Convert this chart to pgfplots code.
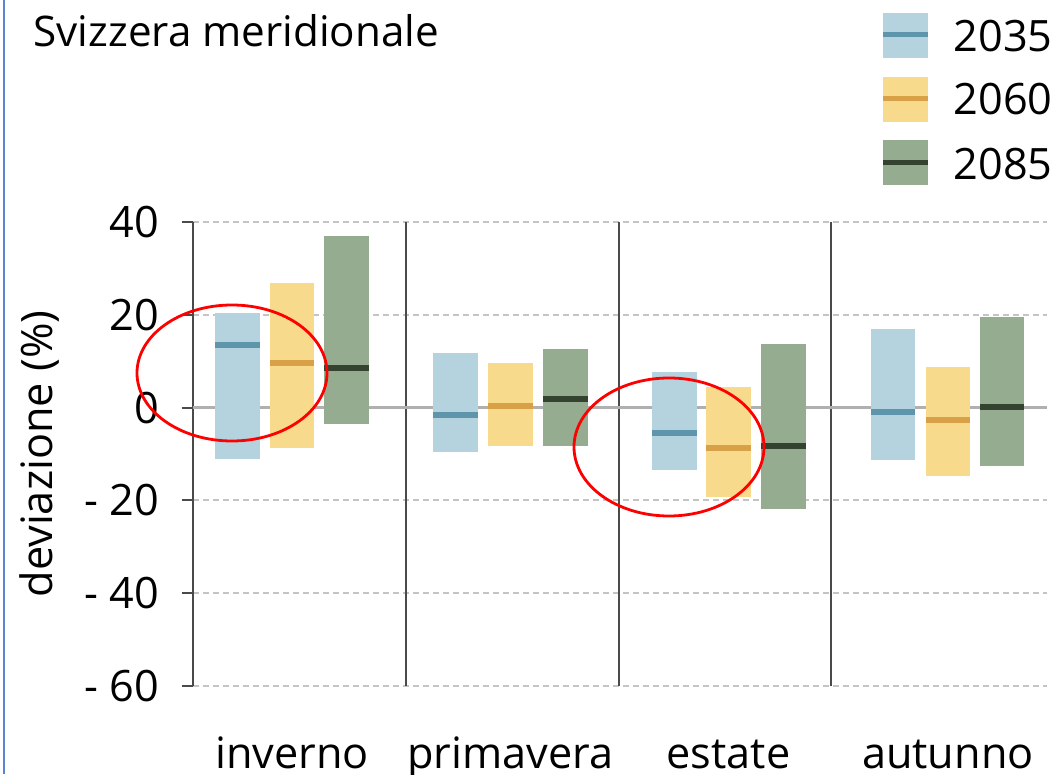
\documentclass[border=0pt]{standalone}
\usepackage{fontspec}
\setmainfont{Open Sans}
\usepackage{pgfplots}
\pgfplotsset{compat=1.18}

\definecolor{bluebox}{HTML}{B4D3DE}
\definecolor{bluemed}{HTML}{5E95AB}
\definecolor{yelbox}{HTML}{F8DA8C}
\definecolor{yelmed}{HTML}{D8A047}
\definecolor{grnbox}{HTML}{95AC91}
\definecolor{grnmed}{HTML}{344230}
\definecolor{axisgray}{HTML}{4A4A4A}
\definecolor{gridgray}{HTML}{C4C4C4}
\definecolor{framebl}{HTML}{5A86D0}

% range box + median: left, right, bottom, median, top, colour
\newcommand{\rangebox}[6]{%
  \addplot[fill=#6box, draw=none] coordinates {(#1,#3) (#1,#5) (#2,#5) (#2,#3)};
  \addplot[draw=#6med, line width=0.6mm] coordinates {(#1,#4) (#2,#4)};
}

\begin{document}
\begin{tikzpicture}[font=\fontsize{12.3}{14}\selectfont]
\useasboundingbox (-19.3mm,-8.8mm) rectangle (87.0mm,68.6mm);
\clip (-19.3mm,-8.8mm) rectangle (87.0mm,68.6mm);
\begin{axis}[
  at={(0,0)}, anchor=south west,
  scale only axis, width=85.4mm, height=46.4mm,
  xmin=0, xmax=4, ymin=-60, ymax=40,
  axis x line*=bottom, axis y line*=left,
  x axis line style={draw=none},
  y axis line style={draw=axisgray, line width=0.2mm, -},
  xtick={0.464,1.487,2.508,3.536},
  xticklabels={inverno,primavera,estate,autunno},
  xtick style={draw=none},
  xticklabel style={anchor=base, yshift=-7.1mm},
  ytick={-60,-40,-20,0,20,40},
  yticklabels={- 60,- 40,- 20,0,20,40},
  tick align=outside, major tick length=1.1mm,
  ytick style={draw=axisgray, line width=0.2mm},
  yticklabel style={anchor=east, inner sep=0pt, xshift=-2.2mm},
  ymajorgrids,
  major grid style={gridgray, line width=0.2mm, dash pattern=on 0.6mm off 0.4mm},
  extra x ticks={1.0,1.995,2.99}, extra x tick labels={},
  extra x tick style={grid=major, major grid style={axisgray, line width=0.2mm, solid}},
  extra y ticks={0}, extra y tick labels={},
  extra y tick style={grid=major, major grid style={gridgray!90!black, line width=0.25mm, solid}},
  ylabel={deviazione (\%)},
  every axis y label/.style={at={(axis description cs:-0.1651,0.5)}, rotate=90, anchor=base},
  clip=false,
]
% inverno
\rangebox{0.104}{0.312}{-11.1}{13.4}{20.3}{blue}
\rangebox{0.360}{0.568}{-8.8}{9.6}{26.8}{yel}
\rangebox{0.615}{0.823}{-3.6}{8.6}{36.9}{grn}
% primavera
\rangebox{1.126}{1.334}{-9.5}{-1.5}{11.7}{blue}
\rangebox{1.383}{1.591}{-8.3}{0.4}{9.7}{yel}
\rangebox{1.641}{1.849}{-8.2}{1.8}{12.7}{grn}
% estate
\rangebox{2.151}{2.359}{-13.5}{-5.4}{7.6}{blue}
\rangebox{2.404}{2.612}{-19.3}{-8.7}{4.5}{yel}
\rangebox{2.662}{2.870}{-21.9}{-8.2}{13.6}{grn}
% autunno
\rangebox{3.175}{3.383}{-11.4}{-1.0}{17.0}{blue}
\rangebox{3.432}{3.640}{-14.7}{-2.6}{8.8}{yel}
\rangebox{3.685}{3.893}{-12.6}{0.1}{19.5}{grn}
\end{axis}

% title
\node[anchor=base west, inner sep=0pt, font=\fontsize{12}{14}\selectfont] at (-16.0mm,63.9mm) {Svizzera meridionale};

% legend
\foreach \c/\yt/\ym/\yb/\yl/\lab in {blue/67.3/65.1/62.8/63.4/2035, yel/60.9/58.7/56.4/57.1/2060, grn/54.6/52.3/50.1/50.6/2085}{
  \fill[\c box] (69.0mm,\yb mm) rectangle (73.5mm,\yt mm);
  \draw[\c med, line width=0.5mm] (69.0mm,\ym mm) -- (73.5mm,\ym mm);
  \node[anchor=base west, inner sep=0pt] at (76.0mm,\yl mm) {\lab};
}

% highlights
\draw[red, line width=0.28mm] (3.9mm,31.3mm) ellipse [x radius=9.5mm, y radius=6.8mm];
\draw[red, line width=0.28mm] (47.6mm,23.9mm) ellipse [x radius=9.5mm, y radius=6.9mm];

% left frame edge of the screenshot
\draw[framebl, line width=0.25mm] (-18.9mm,-8.8mm) -- (-18.9mm,68.6mm);
\end{tikzpicture}
\end{document}
